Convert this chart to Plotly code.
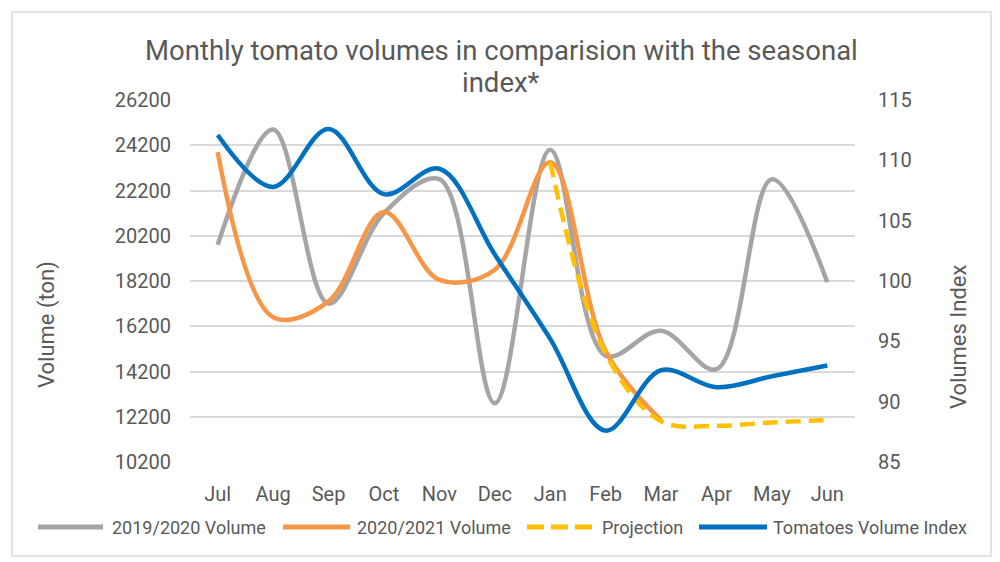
import plotly.graph_objects as go

months = ["Jul", "Aug", "Sep", "Oct", "Nov", "Dec", "Jan", "Feb", "Mar", "Apr", "May", "Jun"]
vol_2019_2020 = [19800, 24900, 17200, 21200, 22700, 12800, 24000, 14900, 16000, 14300, 22700, 18150]
vol_2020_2021 = [23900, 16600, 17300, 21250, 18250, 18700, 23450, 15100, 12050, None, None, None]
projection = [None, None, None, None, None, None, 23450, 15000, 12000, 11800, 11950, 12050]
volume_index = [112.1, 107.8, 112.6, 107.2, 109.3, 102.2, 95.2, 87.6, 92.6, 91.2, 92.1, 93.0]

series_names = ["2019/2020 Volume", "2020/2021 Volume", "Projection", "Tomatoes Volume Index"]
series_colors = ["#A5A5A5", "#F79646", "#FFC000", "#0070C0"]
series_dash = ["solid", "solid", "15px,8px", "solid"]
legend_dash = ["solid", "solid", "17px,7px", "solid"]

FONT = "Roboto, sans-serif"
TXT = "#595959"

# the page body has an 8px margin; work in screen pixels and convert
OFF = 8
FW, FH = 1000 - OFF, 562 - OFF
L, R, T, B = 190 - OFF, 855 - OFF, 100 - OFF, 462 - OFF
W, H = R - L, B - T


def px(x):
    return (x - OFF - L) / W


def py(y):
    return (B - (y - OFF)) / H


fig = go.Figure()
data = [vol_2019_2020, vol_2020_2021, projection, volume_index]
for i, (name, ys) in enumerate(zip(series_names, data)):
    fig.add_trace(go.Scatter(
        x=months, y=ys, name=name, mode="lines",
        yaxis="y2" if i == 3 else "y",
        line=dict(color=series_colors[i], width=4.5, dash=series_dash[i],
                  shape="spline", smoothing=1.0),
        showlegend=False))

fig.update_layout(
    width=FW, height=FH,
    paper_bgcolor="white", plot_bgcolor="white",
    margin=dict(l=L, r=FW - R, t=T, b=FH - B, autoexpand=False),
    font=dict(family=FONT, size=20, color=TXT),
    showlegend=False,
    xaxis=dict(type="category", range=[-0.5, 11.5], showgrid=False, zeroline=False,
               showline=False, ticks="", ticklabelstandoff=18,
               tickfont=dict(size=20, color=TXT)),
    yaxis=dict(range=[10200, 26200], dtick=2000, tick0=10200, tickformat="d",
               showgrid=True, gridcolor="#D9D9D9", gridwidth=1.5, zeroline=False,
               showline=False, ticklabelstandoff=18, tickfont=dict(size=20, color=TXT)),
    yaxis2=dict(range=[85, 115], dtick=5, tick0=85, overlaying="y", side="right",
                showgrid=False, zeroline=False, showline=False,
                ticklabelstandoff=22, tickfont=dict(size=20, color=TXT)),
    hovermode=False,
)

# title (two lines as in the reference)
fig.add_annotation(text="Monthly tomato volumes in comparision with the seasonal",
                   x=px(501), y=py(50), xref="paper", yref="paper",
                   xanchor="center", yanchor="middle", showarrow=False,
                   font=dict(size=27.5, color=TXT, family=FONT))
fig.add_annotation(text="index*",
                   x=px(501), y=py(82), xref="paper", yref="paper",
                   xanchor="center", yanchor="middle", showarrow=False,
                   font=dict(size=27.5, color=TXT, family=FONT))

# axis titles
fig.add_annotation(text="Volume (ton)", textangle=-90,
                   x=px(47), y=py(325), xref="paper", yref="paper",
                   xanchor="center", yanchor="middle", showarrow=False,
                   font=dict(size=22, color=TXT, family=FONT))
fig.add_annotation(text="Volumes Index", textangle=-90,
                   x=px(958), y=py(337), xref="paper", yref="paper",
                   xanchor="center", yanchor="middle", showarrow=False,
                   font=dict(size=22, color=TXT, family=FONT))

# legend (drawn to match the reference's long line samples)
legend_y = 527
legend_x = [(38, 103, 110), (283, 350, 355), (527, 592, 600), (699, 767, 771)]
for i, (x0, x1, xt) in enumerate(legend_x):
    fig.add_shape(type="line", xref="paper", yref="paper",
                  x0=px(x0), x1=px(x1), y0=py(legend_y), y1=py(legend_y),
                  line=dict(color=series_colors[i], width=5, dash=legend_dash[i]))
    fig.add_annotation(text=series_names[i], x=px(xt), y=py(legend_y),
                       xref="paper", yref="paper", xanchor="left", yanchor="middle",
                       showarrow=False, font=dict(size=18, color=TXT, family=FONT))

# chart frame
fig.add_shape(type="rect", xref="paper", yref="paper",
              x0=px(12), x1=px(991), y0=py(556), y1=py(12),
              line=dict(color="#D9D9D9", width=1.5), fillcolor="rgba(0,0,0,0)", layer="below")

fig.write_html("out.html")
